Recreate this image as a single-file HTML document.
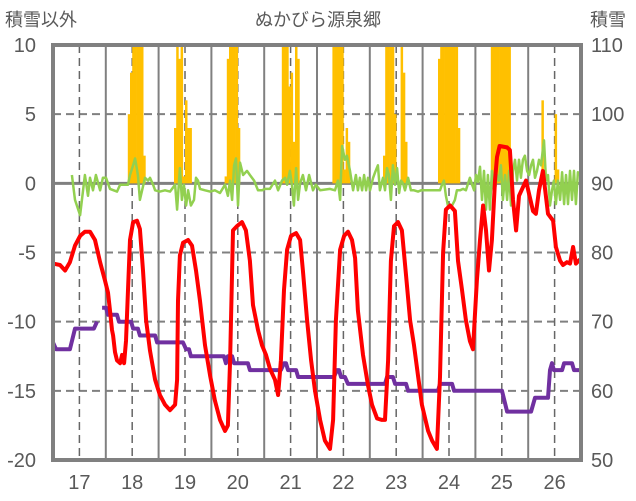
<!DOCTYPE html>
<html><head><meta charset="utf-8"><style>
body{margin:0;background:#fff;}
svg{display:block;font-family:"Liberation Sans","Noto Sans CJK JP",sans-serif;}
</style></head><body>
<svg id="chart" width="636" height="501" viewBox="0 0 636 501">
<text x="5" y="26" font-size="18" fill="#595959">積雪以外</text>
<text x="318" y="26" font-size="18" fill="#595959" text-anchor="middle">ぬかびら源泉郷</text>
<text x="590" y="26" font-size="18" fill="#595959">積雪</text>
<g id="grid"></g>
<g id="bars"></g>
<g id="lines"></g>
<g id="axes"></g>
</svg>
<script>
const leftTicks=[10,5,0,-5,-10,-15,-20];
const rightTicks=[110,100,90,80,70,60,50];
const dayLabels=[17,18,19,20,21,22,23,24,25,26];
// hours since 16th 12:00
const barHours=[34,35,36,37,38,39,40,41,55,56,57,58,59,60,61,62,78,79,80,81,82,83,84,104,105,106,107,108,109,110,111,127,128,129,130,131,132,133,134,150,151,152,153,154,155,158,159,160,175,176,177,178,179,180,181,182,183,184,199,200,201,202,203,204,205,206,207,222,228,229];
const barValues=[5,8,10,10,10,10,10,2,4,10,9,10,0.5,6,4,4,0.5,9,10,10,10,10,4,10,10,10,7,8,3,10,9,10,10,10,10,10,1,4,3,2,10,10,10,10,5,10,8,3,9,10,10,10,10,10,10,10,10,4,10,10,10,10,10,10,10,10,10,6,5,1];
const tempHours=[0,3.2,5.5,7.7,10,12.3,14.5,16.8,19.1,21.4,23.6,25,25.9,26.8,27.3,28.2,29.1,30.5,31.4,32.3,33.2,34.1,35,36.4,38.2,39.5,40.9,42.3,44.1,46.4,48.6,50.9,53.2,55.5,56.4,56.8,57.7,59.1,61.4,63.2,65,66.8,69.1,71.4,73.6,75.9,78.2,79.5,80.5,81.8,83.6,85.9,87.7,89.5,90.9,93.2,95,96.8,98.6,100.9,102.3,103.6,105,106.4,108.2,110.5,112.3,113.6,115.5,117.3,119.1,121.4,123.6,125.9,127.3,128.6,130.5,132.3,134.1,135.9,137.3,138.6,140.9,143.2,145,147.3,149.5,150.9,152.3,153.6,155,156.8,158.6,160.5,162.3,164.1,165.9,167.7,170.5,172.3,174.5,175.9,177.3,178.6,180.5,182.7,184.1,185.9,187.7,189.5,190.9,192.7,194.1,195.5,196.8,198.2,199.5,200.9,201.8,203,206.4,207.7,209.1,210.5,211.8,215,218.2,219.5,220.9,222.7,225,227.3,228.6,230.5,231.8,233.6,235,236.4,237.7,239.5];
const tempValues=[-5.8,-5.9,-6.3,-5.7,-4.5,-3.8,-3.5,-3.5,-4.1,-5.7,-7,-7.9,-9.2,-10.6,-11,-12.2,-12.8,-13,-12.4,-13,-11.4,-7.7,-4.1,-2.8,-2.7,-3.3,-6.3,-9.9,-12.1,-14.2,-15.3,-16,-16.4,-16,-14.2,-8.5,-5.2,-4.3,-4.1,-4.5,-6.3,-8.5,-11.7,-13.9,-15.7,-17.1,-17.9,-17.5,-12.8,-3.4,-3.1,-2.8,-3.4,-5.6,-8.8,-10.6,-11.7,-12.4,-13.4,-14.2,-15.3,-12.8,-7.7,-4.8,-3.8,-3.6,-4.1,-6.3,-9.9,-12.8,-15,-17.1,-18.6,-19.2,-17.1,-9.9,-4.8,-3.8,-3.5,-4.1,-5.4,-9.2,-12.4,-14.6,-16,-17,-17.1,-17.1,-12.8,-5.6,-3.1,-2.8,-3.4,-6.7,-9.9,-11.7,-13.9,-16,-17.9,-18.6,-19.2,-14,-5,-1.9,-1.6,-2,-5.6,-7.7,-9.9,-11.4,-12,-7,-4.1,-1.6,-3.4,-6.3,-4.1,0.2,1.9,2.7,2.6,2.4,-1.2,-3.4,-0.9,0.2,-2,-2.2,-0.5,0.9,-2.2,-2.7,-4.6,-5.6,-5.9,-5.7,-5.8,-4.6,-5.8,-5.5];
const greenHours=[8.6,10,12.3,14.5,15.9,16.8,18.2,19.5,21.4,22.7,24.1,25.9,29.1,30.5,32.7,34.1,35,36.4,37.3,38.6,39.5,40.5,41.8,43.2,44.1,45.5,46.4,48.6,50.9,53.2,55.5,56.4,57.7,58.6,59.5,60.5,61.4,62.7,64.1,65,65.9,66.8,69.1,71.4,73.6,75.9,78.2,79.5,80.5,81.4,82.3,83.2,84.1,85,86.4,88.2,89.5,91.4,93.2,95,96.4,98.6,100.9,102.3,104.1,105.5,106.4,107.7,108.6,109.5,110.5,111.4,112.3,113.6,115,116.4,118.2,119.5,121.4,125.9,128.2,129.5,130.5,131.4,132.7,133.6,135,136.4,137.7,138.6,139.5,140.5,141.4,142.3,143.2,144.1,145.5,146.4,147.7,148.6,150,150.9,151.8,152.7,153.6,154.5,155.5,156.4,157.3,158.2,159.1,160,161.4,162.7,164.1,165.9,167.3,169.1,171.4,173.6,175.9,176.8,177.7,178.6,179.5,180.5,181.4,182.7,183.6,185,186.4,187.7,189.5,190.5,191.4,192.3,193.2,194.1,195,195.9,196.8,197.7,198.6,199.5,200.5,201.8,202.7,203.6,204.5,205.5,206.4,207.3,208.2,209.1,210,210.9,211.8,212.7,213.6,214.5,215.5,216.4,217.3,218.2,219.1,220,220.9,221.8,223.2,224.1,225,225.9,226.8,227.7,228.6,229.5,230.5,231.4,232.3,233.2,234.1,235,235.9,236.8,237.7,238.6,239.5];
const greenValues=[0.6,-1.2,-2.3,0.6,-0.9,0.4,-0.5,0.6,-0.5,0.4,0.4,-0.4,-0.6,-0.1,-0.1,-0.1,0.6,1.3,1.8,0.6,-1.2,-0.5,0.4,0.2,0.4,-0.1,-0.5,-0.6,-0.5,-0.6,-0.1,-1.9,1.1,-1.2,-0.1,-1.6,-0.5,-1.6,-1.2,0.4,0.2,-0.4,-0.5,-0.6,-0.5,-0.7,-0.1,-0.9,0.2,-1.2,1.3,1.8,-1.6,1.5,0.6,0.9,0.6,0.2,-0.5,-0.5,-0.4,-0.4,0.2,-0.5,0.2,0.4,-0.1,0.9,-0.1,-1.6,1.1,-1.2,0,0.6,-0.5,0.6,-0.5,-0.1,-0.5,-0.4,-0.5,0.2,-1.2,2.7,1.7,2,0.9,-0.5,0.6,-0.5,0.4,-0.5,0.6,-0.5,0.4,-0.5,0.4,0.8,1.3,-0.5,0.4,-0.5,1.1,0.6,-1.2,1.3,-0.1,1.1,-0.7,0.2,0,-0.5,0.4,-0.5,-0.5,-0.6,-0.5,-0.5,-0.5,-0.5,-0.5,-0.1,0.2,-0.9,-1.6,-1.6,-1.6,-1.2,-0.5,-0.5,-0.4,-0.5,0.4,-0.1,-0.5,0.6,0.1,1.2,-1.2,0.9,-1.9,0.6,-1.9,0.9,-0.9,0.6,0.2,1.3,-1.2,0.6,-1.2,0.9,-1.6,0.9,1.7,0.2,1.7,0.4,1.7,2,0.9,0.6,1.3,1.7,0.4,0.9,1.7,1.3,3.1,0.2,0.6,-1.6,-0.5,0.2,-1.5,0.2,-1.2,0.8,-1.5,0.6,-1.5,0.9,-1.2,0.9,-1.5,0.8,0.6];
const snowHours=[0,1.4,7.7,10,18.6,20,null,22.3,24.1,25,29.1,30,35.5,36.4,38.6,39.5,46.4,47.3,59.1,60.5,61.8,62.7,77.7,78.6,79.5,81.4,82.3,88.6,89.5,103.6,105,105.9,106.8,110.5,111.4,127.7,129.1,130,130.9,132.7,134.1,150.9,151.8,154.5,155.5,160.5,161.4,175,175.9,181.4,182.3,204.1,206.4,217.3,219.1,225,225.9,226.8,227.7,231.4,232.3,235.9,236.8,239.5];
const snowValues=[67,66,66,69,69,70,null,72,72,71,71,70,70,69,69,68,68,67,67,66,66,65,65,64,65,65,64,64,63,63,64,64,63,63,62,62,63,63,62,62,61,61,62,62,61,61,60,60,61,61,60,60,57,57,59,59,63,64,63,63,64,64,63,63];

const L=53,R=581,T=45,B=460;
const xs=h=>L+(h/240)*(R-L);
const yL=v=>B-(v+20)/30*(B-T);
const yR=v=>B-(v-50)/60*(B-T);
const NS='http://www.w3.org/2000/svg';
function mk(parent,tag,attrs){const e=document.createElementNS(NS,tag);for(const k in attrs)e.setAttribute(k,attrs[k]);parent.appendChild(e);return e;}
const grid=document.getElementById('grid'),bars=document.getElementById('bars'),lines=document.getElementById('lines'),axes=document.getElementById('axes');

// horizontal gridlines
leftTicks.forEach(v=>{
  if(v===10||v===-20)return;
  const y=yL(v);
  const ln=mk(grid,'line',{x1:L,x2:R,y1:y,y2:y,stroke:'#808080','stroke-width':v===0?3:2,'stroke-dasharray':v===0?'none':'8,5'});
  
  
});
// vertical lines: noon solid, midnight(day) dashed
for(let d=0;d<10;d++){
  const xn=xs(d*24+12+12);
  if(d<9){const s=mk(grid,'line',{x1:xn,x2:xn,y1:T,y2:B,stroke:'#808080','stroke-width':2});
  
  }
  const xd=xs(d*24+12);
  const g=mk(grid,'line',{x1:xd,x2:xd,y1:T,y2:B,stroke:'#666','stroke-width':1.5,'stroke-dasharray':'8,5'});
  
  
}
// bars
const bw=(R-L)/240;
barHours.forEach((h,i)=>{
  const v=Math.min(barValues[i],10);
  if(v<=0)return;
  const r=mk(bars,'rect',{x:xs(h),y:yL(v),width:bw+0.3,height:yL(0)-yL(v),fill:'#FFC000'});
  
  
});
function path(hs,vs,yf){let d='',pen=false;hs.forEach((h,i)=>{if(h===null||vs[i]===null){pen=false;return;}d+=(pen?'L':'M')+xs(h).toFixed(1)+','+yf(vs[i]).toFixed(1);pen=true;});return d;}
const gp=mk(lines,'path',{d:path(greenHours,greenValues,yL),fill:'none',stroke:'#92D050','stroke-width':2.5,'stroke-linejoin':'round'});


const sp=mk(lines,'path',{d:path(snowHours,snowValues,yR),fill:'none',stroke:'#7030A0','stroke-width':4,'stroke-linejoin':'round'});


const tp=mk(lines,'path',{d:path(tempHours,tempValues,yL),fill:'none',stroke:'#FF0000','stroke-width':4,'stroke-linejoin':'round'});


// frame
const fr=mk(axes,'rect',{x:L,y:T,width:R-L,height:B-T,fill:'none',stroke:'#808080','stroke-width':4});


leftTicks.forEach(v=>{
  const t=mk(axes,'text',{x:36,y:yL(v)+7,'font-size':20,fill:'#595959','text-anchor':'end'});
  t.textContent=v;
  
  
});
rightTicks.forEach(v=>{
  const t=mk(axes,'text',{x:591,y:yR(v)+7,'font-size':20,fill:'#595959'});
  t.textContent=v;
  
  
});
dayLabels.forEach((d,i)=>{
  const t=mk(axes,'text',{x:xs(i*24+12),y:489,'font-size':20,fill:'#595959','text-anchor':'middle'});
  t.textContent=d;
  
  
});
</script>
</body></html>
